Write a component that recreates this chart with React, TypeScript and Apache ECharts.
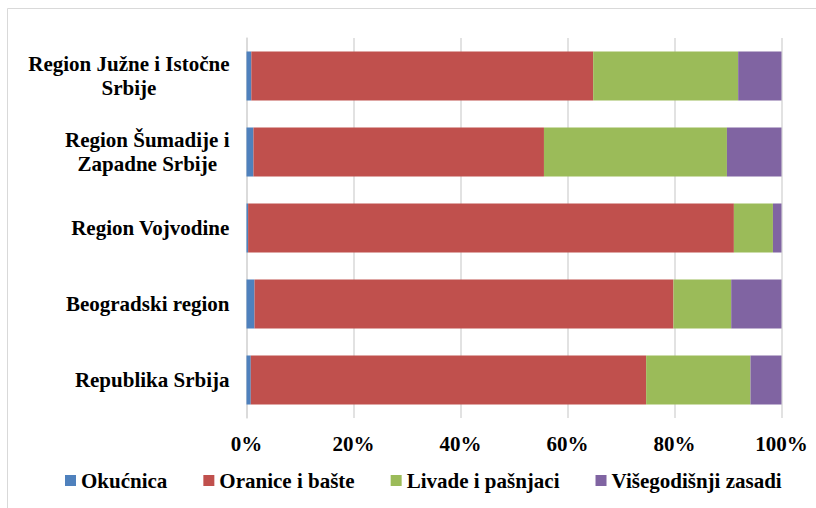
import React, { useEffect, useRef } from "react";
import * as echarts from "echarts";

const categories = [
  "Region Južne i Istočne\nSrbije",
  "Region Šumadije i\nZapadne Srbije",
  "Region Vojvodine",
  "Beogradski region",
  "Republika Srbija",
];
const okucnica = [0.9, 1.3, 0.3, 1.5, 0.8];
const oranice = [63.9, 54.3, 90.8, 78.3, 73.9];
const livade = [27.1, 34.2, 7.3, 10.8, 19.5];
const visegodisnji = [8.1, 10.2, 1.6, 9.4, 5.8];
const seriesNames = ["Okućnica", "Oranice i bašte", "Livade i pašnjaci", "Višegodišnji zasadi"];
const colors = ["#4F81BD", "#C0504D", "#9BBB59", "#8064A2"];
const xTicks = [0, 20, 40, 60, 80, 100];

const FONT = "Times New Roman, Liberation Serif, serif";

export default function App() {
  const ref = useRef<HTMLDivElement>(null);
  useEffect(() => {
    if (!ref.current) return;
    const chart = echarts.init(ref.current, null, { renderer: "svg" });
    const data = [okucnica, oranice, livade, visegodisnji];
    chart.setOption({
      animation: false,
      backgroundColor: "#ffffff",
      color: colors,
      textStyle: { fontFamily: FONT },
      graphic: [
        {
          type: "rect",
          z: -10,
          shape: { x: 7.5, y: 8.5, width: 900, height: 600 },
          style: { fill: "none", stroke: "#d9d9d9", lineWidth: 1 },
        },
      ],
      grid: { left: 246.5, right: 34.5, top: 38, bottom: 90, containLabel: false },
      legend: {
        left: 60,
        top: 465,
        itemWidth: 11,
        itemHeight: 11,
        itemGap: 36,
        icon: "rect",
        textStyle: { fontFamily: FONT, fontWeight: "bold", fontSize: 21, color: "#000" },
        data: seriesNames,
      },
      xAxis: {
        type: "value",
        min: xTicks[0],
        max: xTicks[xTicks.length - 1],
        interval: 20,
        axisLine: { show: false },
        axisTick: { show: false },
        splitLine: { show: true, lineStyle: { color: "#d9d9d9", width: 1.5 } },
        axisLabel: {
          formatter: "{value}%",
          margin: 15,
          fontFamily: FONT,
          fontWeight: "bold",
          fontSize: 21,
          color: "#000",
        },
      },
      yAxis: {
        type: "category",
        inverse: true,
        data: categories,
        axisLine: { show: true, lineStyle: { color: "#d9d9d9", width: 1.5 } },
        axisTick: { show: false },
        axisLabel: {
          margin: 17,
          align: "right",
          formatter: (v: string) => v.split("\n").map((l) => `{c|${l}}`).join("\n"),
          rich: {
            c: {
              align: "center",
              fontFamily: FONT,
              fontWeight: "bold",
              fontSize: 21,
              lineHeight: 24,
              color: "#000",
            },
          },
        },
      },
      series: seriesNames.map((name, i) => ({
        name,
        type: "bar",
        stack: "total",
        barCategoryGap: "35.5%",
        data: data[i],
        itemStyle: { color: colors[i] },
      })),
    });
    return () => chart.dispose();
  }, []);
  return (
    <div
      ref={ref}
      style={{ position: "absolute", left: 0, top: 0, width: 816, height: 508 }}
    />
  );
}
